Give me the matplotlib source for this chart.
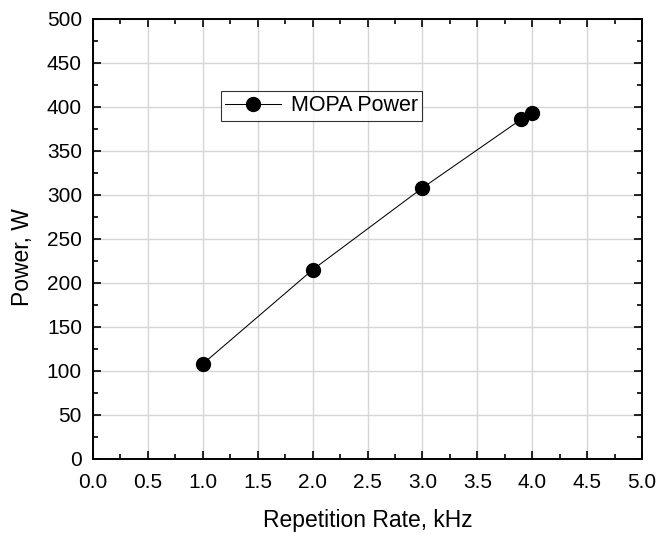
import matplotlib
matplotlib.use("Agg")
import matplotlib.pyplot as plt
from matplotlib.ticker import MultipleLocator

rate_khz = [1.0, 2.0, 3.0, 3.9, 4.0]
power_w = [108, 215, 308, 386, 393]

plt.rcParams['font.family'] = ['Liberation Sans', 'DejaVu Sans']
fig = plt.figure(figsize=(6.57, 5.35), dpi=100)
ax = fig.add_axes([93/657, 1-459/535, 549/657, 440/535])

ax.plot(rate_khz, power_w, color='black', lw=0.75, marker='o', ms=10,
        label='MOPA Power')
ax.set_xlim(0, 5)
ax.set_ylim(0, 500)
ax.xaxis.set_major_locator(MultipleLocator(0.5))
ax.xaxis.set_minor_locator(MultipleLocator(0.25))
ax.yaxis.set_major_locator(MultipleLocator(50))
ax.yaxis.set_minor_locator(MultipleLocator(25))
ax.grid(True, which='major', color='#d6d6d6', lw=1)
ax.set_axisbelow(True)
ax.tick_params(which='both', direction='in', top=True, right=True, labelsize=15, width=1.2)
ax.tick_params(which='major', length=6)
ax.tick_params(which='minor', length=3.6)
ax.tick_params(axis='x', pad=10)
ax.tick_params(axis='y', pad=8)
for s in ax.spines.values():
    s.set_linewidth(1.4)
ax.set_xlabel('Repetition Rate, kHz', fontsize=16.5)
ax.set_ylabel('Power, W', fontsize=16.5)
ax.xaxis.set_label_coords(0.5, -0.113)
ax.yaxis.set_label_coords(-0.107, 0.459)
leg = ax.legend(loc='upper left', bbox_to_anchor=(0.233, 0.836), fontsize=15.5,
                frameon=True, fancybox=False, edgecolor='black', borderpad=0.2,
                handlelength=2.6, handletextpad=0.45, borderaxespad=0,
                markerscale=1.0)
leg.get_frame().set_linewidth(0.8)
fig.savefig('out.png', dpi=100)
